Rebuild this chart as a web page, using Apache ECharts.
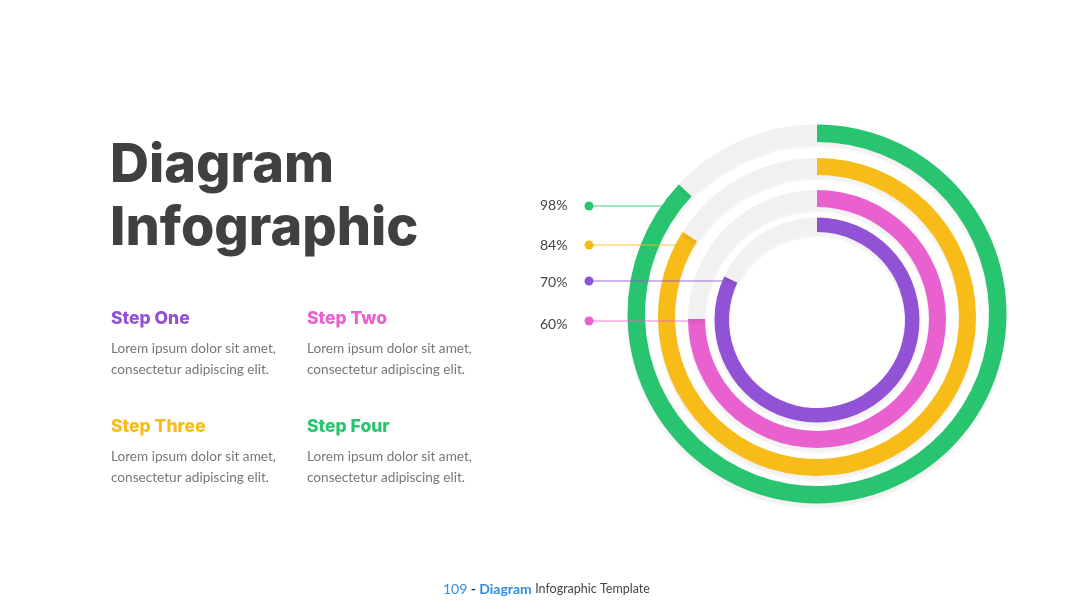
<!DOCTYPE html>
<html lang="en">
<head>
    <meta charset="UTF-8">
    <title>Diagram Infographic</title>
    <script src="https://cdn.jsdelivr.net/npm/echarts@6/dist/echarts.min.js"></script>
    <style>
        html, body { margin: 0; padding: 0; background: #fff; }
        #main { width: 1080px; height: 608px; }
    </style>
</head>
<body>
    <div id="main"></div>
    <script type="text/javascript">
        // rings, outer -> inner
        var ringNames = ['Step Four', 'Step Three', 'Step Two', 'Step One'];
        var ringColors = ['#29c46f', '#f8bc18', '#e961cf', '#9152d6'];
        // share of the circle each arc covers
        var ringShares = [0.87, 0.84, 0.75, 0.82];

        // left side labels, top -> bottom
        var tagTexts = ['98%', '84%', '70%', '60%'];
        var tagColors = ['#29c46f', '#f8bc18', '#9152d6', '#e961cf'];

        var stepTitles = ['Step One', 'Step Two', 'Step Three', 'Step Four'];
        var stepColors = ['#9152d6', '#e961cf', '#f8bc18', '#29c46f'];
        var stepBody = ['Lorem ipsum dolor sit amet,', 'consectetur adipiscing elit.'];

        // layout (pixels)
        var ringCenters = [[817, 314], [817, 317], [817, 319], [817, 320]];
        var ringRadius = [[172, 189.5], [142, 159], [112, 129], [88, 102.5]];
        var dotY = [206, 245, 281, 321];
        var tagY = [205, 245, 282, 324];
        var tagLineEnd = [664, 679, 724, 691];

        var myChart = echarts.init(document.getElementById('main'));

        var series = ringShares.map(function (v, i) {
            return {
                type: 'pie',
                name: ringNames[i],
                center: ringCenters[i],
                radius: ringRadius[i],
                startAngle: 90,
                clockwise: true,
                silent: true,
                label: { show: false },
                labelLine: { show: false },
                itemStyle: {
                    shadowColor: 'rgba(0,0,0,0.05)',
                    shadowBlur: 2,
                    shadowOffsetY: 5
                },
                data: [
                    { value: v, itemStyle: { color: ringColors[i] } },
                    { value: 1 - v, itemStyle: { color: '#f1f1f1' } }
                ]
            };
        });

        var graphic = [];
        // title
        graphic.push({
            type: 'text', left: 110, top: 134,
            style: {
                text: 'Diagram\nInfographic',
                font: '800 54px Inter',
                lineHeight: 63,
                fill: '#404040'
            }
        });
        // steps
        stepTitles.forEach(function (t, i) {
            var x = 111 + (i % 2) * 196;
            var y = 310 + Math.floor(i / 2) * 108;
            graphic.push({
                type: 'text', left: x, top: y,
                style: { text: t, font: '800 17.5px Inter', fill: stepColors[i] }
            });
            graphic.push({
                type: 'text', left: x, top: y + 28,
                style: {
                    text: stepBody.join('\n'),
                    font: '13.6px Lato',
                    lineHeight: 21,
                    fill: '#777777'
                }
            });
        });
        // tags with leader lines
        tagTexts.forEach(function (t, i) {
            graphic.push({
                type: 'line', z: 10,
                shape: { x1: 589, y1: dotY[i], x2: tagLineEnd[i], y2: dotY[i] },
                style: { stroke: tagColors[i], lineWidth: 1, opacity: 0.85 }
            });
            graphic.push({
                type: 'circle', z: 11,
                shape: { cx: 589, cy: dotY[i], r: 4.5 },
                style: { fill: tagColors[i] }
            });
            graphic.push({
                type: 'text', z: 11, x: 540, y: tagY[i],
                style: {
                    text: t, font: '14px Lato', fill: '#444444',
                    verticalAlign: 'middle'
                }
            });
        });
        // footer
        graphic.push({
            type: 'text', x: 443, y: 589,
            style: {
                text: '{n|109} {d|-} {b|Diagram} {t|Infographic Template}',
                verticalAlign: 'middle',
                rich: {
                    n: { font: '14px Lato', fill: '#2e8fe0' },
                    d: { font: 'bold 14px Lato', fill: '#333333' },
                    b: { font: 'bold 14px Lato', fill: '#2e8fe0' },
                    t: { font: '12.5px Lato', fill: '#444444' }
                }
            }
        });

        myChart.setOption({
            backgroundColor: '#ffffff',
            animation: false,
            series: series,
            graphic: graphic
        });
    </script>
</body>
</html>
